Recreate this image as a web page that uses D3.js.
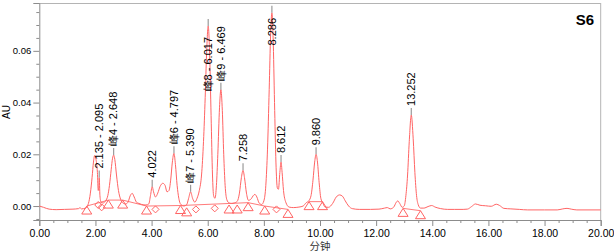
<!DOCTYPE html>
<html><head><meta charset="utf-8">
<script src="https://cdn.jsdelivr.net/npm/d3@7"></script>
<style>html,body{margin:0;padding:0;background:#fff;}svg{display:block;}</style>
</head><body>
<svg id="c" width="614" height="252"></svg>
<script>
// ---- data ----
const traceTime = [0.00,0.15,0.35,0.60,0.90,1.20,1.40,1.45,1.50,1.65,1.75,1.82,1.88,1.93,1.97,2.02,2.07,2.10,2.12,2.135,2.16,2.20,2.28,2.36,2.44,2.50,2.56,2.61,2.648,2.69,2.75,2.82,2.90,3.00,3.08,3.16,3.24,3.31,3.38,3.46,3.55,3.65,3.80,3.90,3.96,4.022,4.07,4.14,4.22,4.30,4.40,4.48,4.55,4.62,4.68,4.74,4.797,4.85,4.91,4.97,5.05,5.15,5.25,5.32,5.39,5.46,5.54,5.62,5.70,5.78,5.85,5.91,5.96,6.017,6.07,6.12,6.17,6.21,6.26,6.31,6.36,6.42,6.469,6.52,6.57,6.62,6.68,6.76,6.85,6.95,7.05,7.13,7.20,7.258,7.31,7.38,7.45,7.55,7.62,7.68,7.75,7.83,7.92,8.00,8.07,8.13,8.19,8.24,8.286,8.33,8.38,8.43,8.48,8.52,8.57,8.612,8.65,8.70,8.78,8.90,9.05,9.25,9.40,9.50,9.60,9.68,9.75,9.81,9.860,9.91,9.97,10.03,10.10,10.18,10.30,10.45,10.58,10.70,10.80,10.90,11.02,11.15,11.40,11.80,12.10,12.30,12.40,12.50,12.62,12.72,12.77,12.84,12.93,13.00,13.06,13.12,13.18,13.252,13.32,13.38,13.44,13.50,13.58,13.70,13.85,13.98,14.10,14.30,14.55,14.80,15.10,15.25,15.40,15.54,15.70,15.90,16.10,16.28,16.40,16.55,16.80,17.10,17.40,18.00,18.45,18.65,18.80,18.95,19.15,20.00];
const traceAU = [0.0000,-0.0005,-0.0012,-0.0014,-0.0013,-0.0012,-0.0010,-0.0006,-0.0011,-0.0008,0.0010,0.0050,0.0110,0.0170,0.0195,0.0180,0.0130,0.0060,0.0070,0.0110,0.0040,0.0015,0.0012,0.0020,0.0040,0.0080,0.0140,0.0185,0.0197,0.0180,0.0120,0.0060,0.0025,0.0010,0.0008,0.0015,0.0040,0.0049,0.0035,0.0015,0.0010,0.0006,0.0004,0.0008,0.0040,0.0075,0.0055,0.0035,0.0050,0.0075,0.0088,0.0080,0.0055,0.0060,0.0100,0.0170,0.0204,0.0160,0.0080,0.0030,0.0005,0.0000,0.0005,0.0030,0.0055,0.0030,0.0015,0.0030,0.0060,0.0120,0.0250,0.0420,0.0590,0.0696,0.0580,0.0350,0.0120,0.0040,0.0030,0.0080,0.0200,0.0380,0.0450,0.0370,0.0200,0.0080,0.0025,0.0012,0.0010,0.0012,0.0018,0.0050,0.0110,0.0138,0.0110,0.0050,0.0022,0.0028,0.0040,0.0045,0.0035,0.0012,0.0006,0.0020,0.0080,0.0220,0.0450,0.0660,0.0747,0.0650,0.0400,0.0170,0.0070,0.0065,0.0130,0.0170,0.0130,0.0060,0.0015,-0.0004,-0.0006,-0.0004,0.0000,0.0012,0.0020,0.0040,0.0100,0.0170,0.0200,0.0170,0.0090,0.0030,0.0012,-0.0004,-0.0005,0.0010,0.0035,0.0043,0.0038,0.0020,0.0000,-0.0010,-0.0013,-0.0013,-0.0012,-0.0008,-0.0006,-0.0011,-0.0005,0.0015,0.0020,0.0010,-0.0005,0.0000,0.0040,0.0120,0.0250,0.0352,0.0260,0.0130,0.0040,0.0005,-0.0008,-0.0008,-0.0002,0.0002,-0.0004,-0.0010,-0.0013,-0.0013,-0.0013,-0.0012,-0.0002,0.0008,0.0003,0.0001,-0.0001,0.0007,0.0002,-0.0009,-0.0011,-0.0013,-0.0015,-0.0015,-0.0015,-0.0011,-0.0009,-0.0012,-0.0015,-0.0015];

const peakTimes   = [2.135, 2.648, 4.022, 4.797, 5.390, 6.017, 6.469, 7.258, 8.286, 8.612, 9.860, 13.252];
const peakHeights = [0.0110, 0.0197, 0.0075, 0.0204, 0.0055, 0.0696, 0.0450, 0.0138, 0.0747, 0.0170, 0.0200, 0.0352];
const peakLabels  = ["2.135 - 2.095", "峰4 - 2.648", "4.022", "峰6 - 4.797", "峰7 - 5.390", "峰8 - 6.017", "峰9 - 6.469", "7.258", "8.286", "8.612", "9.860", "13.252"];

const triangleTimes  = [1.69, 2.46, 2.97, 3.82, 5.03, 5.25, 6.76, 7.05, 7.44, 8.03, 8.86, 9.61, 10.09, 12.96, 13.58];
const triangleValues = [0.0000, 0.0023, 0.0023, 0.0000, 0.0002, -0.0007, 0.0004, 0.0004, 0.0013, 0.0000, -0.0013, 0.0017, 0.0017, -0.0009, -0.0018];
const diamondTimes   = [2.10, 2.22, 4.14, 5.58, 6.25, 8.45];
const diamondValues  = [0.0004, -0.0005, -0.0013, -0.0013, -0.0009, -0.0013];

const baseStartTimes  = [1.69, 2.46, 2.97, 3.82, 5.03, 7.44, 8.03, 9.61, 12.96];
const baseStartValues = [0.0000, 0.0023, 0.0023, 0.0000, 0.0002, 0.0013, 0.0000, 0.0017, -0.0009];
const baseEndTimes    = [2.46, 2.97, 3.82, 5.03, 7.44, 8.03, 8.86, 10.09, 13.58];
const baseEndValues   = [0.0023, 0.0023, 0.0000, 0.0002, 0.0013, 0.0000, -0.0013, 0.0017, -0.0018];

const xTicks = [0,2,4,6,8,10,12,14,16,18,20];
const yTicks = [0.00,0.02,0.04,0.06];
const title = "S6", xTitle = "分钟", yTitle = "AU";

// ---- drawing ----
const svg = d3.select("#c");
const L = 39.3, R = 600.7, T = 3, B = 220;
const x = d3.scaleLinear().domain([0,20]).range([L,R]);
const y = d3.scaleLinear().domain([-0.0054,0.0785]).range([B,T]);
const RED = "#ff6464", AX = "#8c8c8c";
const font = "'Liberation Sans', Arial, sans-serif";

// frame top/right
svg.append("line").attr("x1",L).attr("x2",R).attr("y1",T+0.5).attr("y2",T+0.5).attr("stroke","#b4b4b4");
svg.append("line").attr("x1",R).attr("x2",R).attr("y1",T).attr("y2",B).attr("stroke","#b4b4b4");

// axes
const xMinor = d3.range(0,20.001,0.5).filter(v=>Math.abs(v%2)>1e-6);
const gx = svg.append("g").attr("transform",`translate(0,${B})`);
gx.append("g").call(d3.axisBottom(x).tickValues(xMinor).tickSize(3).tickFormat("")).call(g=>g.select(".domain").remove());
gx.append("g").call(d3.axisBottom(x).tickValues(xTicks).tickSize(6).tickPadding(4).tickFormat(d3.format(".2f")));
gx.selectAll("line").attr("stroke",AX);
gx.selectAll(".domain").attr("stroke",AX);
gx.selectAll("text").attr("font-family",font).attr("font-size","10.5px").attr("fill","#000");

const yMinor = d3.range(-0.005,0.0781,0.005).filter(v=>Math.abs(Math.round(v*1000)%20)!==0);
const gy = svg.append("g").attr("transform",`translate(${L},0)`);
gy.append("g").call(d3.axisLeft(y).tickValues(yMinor).tickSize(3).tickFormat("")).call(g=>g.select(".domain").remove());
gy.append("g").call(d3.axisLeft(y).tickValues(yTicks).tickSize(6).tickPadding(2).tickFormat(d3.format(".2f")));
gy.selectAll("line").attr("stroke",AX);
gy.selectAll(".domain").attr("stroke",AX);
gy.selectAll("text").attr("font-family",font).attr("font-size","9.5px").attr("fill","#000");

// baselines
const plot = svg.append("g");
plot.selectAll("line.base").data(baseStartTimes).join("line").attr("class","base")
  .attr("x1",(d,i)=>x(d)).attr("y1",(d,i)=>y(baseStartValues[i]))
  .attr("x2",(d,i)=>x(baseEndTimes[i])).attr("y2",(d,i)=>y(baseEndValues[i]))
  .attr("stroke",RED).attr("stroke-width",1).attr("opacity",0.85);

// trace
const pts = traceTime.map((t,i)=>[t,traceAU[i]]);
plot.append("path").datum(pts)
  .attr("d",d3.line().x(d=>x(d[0])).y(d=>y(d[1])).curve(d3.curveMonotoneX))
  .attr("fill","none").attr("stroke",RED).attr("stroke-width",1);

// markers
plot.selectAll("path.tri").data(triangleTimes).join("path").attr("class","tri")
  .attr("d",(d,i)=>{const px=x(d),py=y(triangleValues[i]);return `M${px},${py}L${px+5},${py+8}L${px-5},${py+8}Z`;})
  .attr("fill","none").attr("stroke",RED).attr("stroke-width",1);
plot.selectAll("path.dia").data(diamondTimes).join("path").attr("class","dia")
  .attr("d",(d,i)=>{const px=x(d),py=y(diamondValues[i]);return `M${px},${py-3.5}L${px+3.5},${py}L${px},${py+3.5}L${px-3.5},${py}Z`;})
  .attr("fill","none").attr("stroke",RED).attr("stroke-width",1);

// peak labels
const labelTopOverride = {"8.286":18, "峰8 - 6.017":37};
peakTimes.forEach((t,i)=>{
  const px = x(t), py = y(peakHeights[i]);
  plot.append("line").attr("x1",px).attr("x2",px).attr("y1",py-7).attr("y2",py)
    .attr("stroke","#9a9a9a").attr("stroke-width",1.2);
  const txt = plot.append("text").text(peakLabels[i])
    .attr("font-family",font).attr("font-size","11px").attr("fill","#000")
    .attr("dy","0.35em");
  const len = txt.node().getComputedTextLength();
  let bottom = py - 9;
  if (labelTopOverride[peakLabels[i]] !== undefined) bottom = labelTopOverride[peakLabels[i]] + len;
  txt.attr("transform",`translate(${px},${bottom}) rotate(-90)`).attr("text-anchor","start");
});

// titles
svg.append("text").text(title).attr("x",594).attr("y",25).attr("text-anchor","end")
  .attr("font-family",font).attr("font-size","15px").attr("font-weight","bold").attr("fill","#000");
svg.append("text").text(xTitle).attr("x",320).attr("y",250).attr("text-anchor","middle")
  .attr("font-family","'Noto Sans CJK SC', sans-serif").attr("font-size","10.5px").attr("fill","#333");
svg.append("text").text(yTitle).attr("transform","translate(10,112) rotate(-90)").attr("text-anchor","middle")
  .attr("font-family",font).attr("font-size","10px").attr("fill","#000");
</script>
</body></html>
